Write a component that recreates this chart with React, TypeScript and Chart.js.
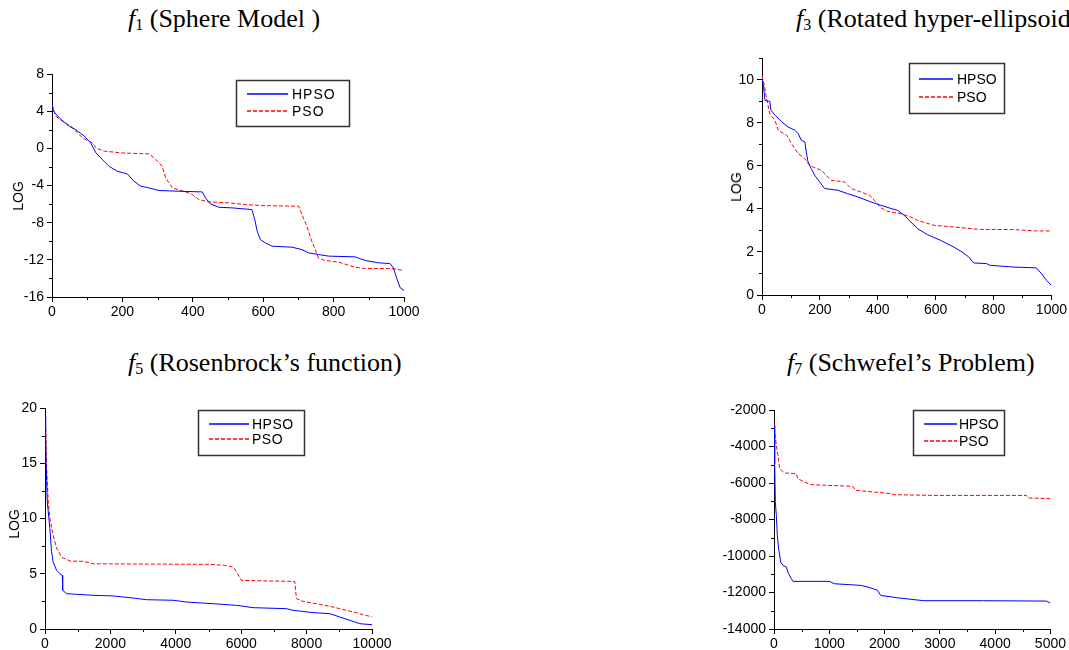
import React, { useEffect, useRef } from 'react';
import { Chart, registerables } from 'chart.js';

Chart.register(...registerables);

const SANS = '"Liberation Sans", Arial, sans-serif';
const SERIF = '"Liberation Serif", "Times New Roman", serif';

// ---------- f1 (Sphere Model) ----------
const f1HpsoX = [0, 4, 21, 49, 68, 92, 110, 125, 148, 162, 186, 214, 233, 252, 276, 304, 361, 427, 436, 450, 474, 512, 568, 576, 583, 592, 606, 625, 682, 710, 729, 757, 786, 861, 890, 927, 960, 970, 979, 989, 1000];
const f1HpsoY = [4.88, 4.0, 3.27, 2.37, 2.0, 1.3, 0.58, -0.5, -1.4, -1.93, -2.47, -2.75, -3.54, -4.08, -4.26, -4.54, -4.62, -4.69, -5.33, -5.98, -6.34, -6.41, -6.59, -7.66, -8.92, -9.81, -10.17, -10.53, -10.64, -10.9, -11.25, -11.43, -11.6, -11.68, -12.07, -12.32, -12.4, -12.86, -13.94, -15.0, -15.3];
const f1PsoX = [0, 11, 30, 54, 73, 87, 115, 125, 148, 200, 276, 295, 313, 323, 342, 380, 399, 417, 446, 502, 550, 597, 701, 710, 724, 738, 748, 757, 776, 814, 861, 890, 965, 1000];
const f1PsoY = [4.7, 3.45, 2.9, 2.37, 1.66, 1.1, 0.58, 0.04, -0.3, -0.5, -0.6, -1.2, -1.93, -3.18, -4.26, -4.69, -4.97, -5.51, -5.76, -5.87, -6.05, -6.16, -6.23, -7.13, -8.38, -9.99, -10.9, -11.8, -12.07, -12.25, -12.8, -12.93, -12.93, -13.15];

// ---------- f3 (Rotated hyper-ellipsoid) ----------
const f3HpsoX = [0, 5, 10, 27, 31, 45, 68, 90, 114, 125, 136, 148, 153, 159, 170, 182, 199, 216, 262, 296, 331, 376, 411, 446, 468, 491, 514, 537, 571, 617, 639, 663, 691, 714, 731, 776, 788, 868, 948, 966, 983, 1000];
const f3HpsoY = [10.06, 9.75, 9.05, 9.0, 8.59, 8.36, 8.05, 7.81, 7.66, 7.5, 7.19, 7.12, 6.65, 6.19, 5.88, 5.57, 5.26, 4.95, 4.87, 4.71, 4.56, 4.33, 4.17, 4.02, 3.94, 3.71, 3.4, 3.09, 2.81, 2.54, 2.39, 2.23, 2.0, 1.77, 1.49, 1.46, 1.38, 1.3, 1.26, 0.99, 0.68, 0.45];
const f3PsoX = [0, 8, 16, 27, 45, 56, 85, 102, 125, 148, 159, 176, 205, 239, 285, 308, 342, 371, 388, 411, 434, 479, 514, 537, 594, 663, 754, 868, 948, 1000];
const f3PsoY = [10.2, 9.75, 9.13, 8.43, 8.12, 7.66, 7.43, 7.04, 6.57, 6.34, 6.11, 5.95, 5.8, 5.33, 5.26, 4.95, 4.79, 4.64, 4.4, 4.05, 3.89, 3.78, 3.63, 3.47, 3.24, 3.16, 3.05, 3.04, 2.98, 2.98];

// ---------- f5 (Rosenbrock's function) ----------
const f5HpsoX = [0, 20, 35, 70, 150, 200, 250, 356, 458, 530, 540, 662, 967, 1477, 2088, 2700, 3106, 3920, 4328, 5143, 5855, 6365, 7383, 7587, 8198, 8707, 9012, 9419, 9623, 10000];
const f5HpsoY = [19.3, 17.8, 14.8, 11.5, 9.1, 7.0, 6.06, 5.3, 5.0, 4.86, 3.5, 3.2, 3.14, 3.05, 2.99, 2.8, 2.65, 2.6, 2.44, 2.29, 2.14, 1.93, 1.84, 1.69, 1.48, 1.39, 1.09, 0.69, 0.48, 0.39];
const f5PsoX = [0, 30, 50, 100, 150, 250, 356, 509, 764, 1171, 1477, 2902, 5041, 5499, 5754, 5855, 6008, 6976, 7637, 7688, 7892, 8300, 8809, 9420, 10000];
const f5PsoY = [19.3, 17.5, 14.5, 11.5, 10.0, 8.5, 7.3, 6.5, 6.15, 6.12, 5.9, 5.88, 5.85, 5.76, 5.6, 5.16, 4.4, 4.34, 4.31, 2.75, 2.5, 2.29, 1.99, 1.54, 1.09];

// ---------- f7 (Schwefel's Problem) ----------
const f7HpsoX = [0, 10, 15, 24, 42, 60, 84, 120, 162, 222, 252, 312, 342, 1001, 1091, 1571, 1751, 1871, 1931, 2260, 2710, 3789, 4928, 5000];
const f7HpsoY = [-2840, -3390, -4940, -7040, -7770, -8870, -9600, -10330, -10510, -10600, -10880, -11240, -11390, -11390, -11520, -11610, -11750, -11880, -12160, -12300, -12450, -12450, -12470, -12580];
const f7PsoX = [0, 12, 42, 72, 102, 192, 402, 432, 552, 671, 971, 1421, 1481, 1691, 2110, 2170, 2890, 4568, 4598, 5000];
const f7PsoY = [-2660, -3200, -3940, -4480, -5210, -5450, -5490, -5760, -5950, -6090, -6130, -6180, -6400, -6460, -6580, -6640, -6680, -6680, -6820, -6860];

const seriesLabels = ['HPSO', 'PSO'];
const seriesColors = ['#0000ff', '#ff0000'];
const psoDash = [4, 2];

type Panel = {
  plot: { l: number; t: number; r: number; b: number };
  yw: number; padTop: number; padRight: number; xh: number;
  x: [number, number, number, number];
  y: [number, number, number, number];
  hpso: [number[], number[]];
  pso: [number[], number[]];
  legend: { box: [number, number, number, number]; x1: number; x2: number; ys: [number, number]; textX: number; spacing: string };
};

const panels: Panel[] = [
  {
    plot: { l: 52, t: 74, r: 404, b: 297 }, yw: 50, padTop: 12, padRight: 22, xh: 28,
    x: [0, 1000, 100, 200], y: [-16, 8, 2, 4],
    hpso: [f1HpsoX, f1HpsoY], pso: [f1PsoX, f1PsoY],
    legend: { box: [236, 80, 113, 46], x1: 247, x2: 288, ys: [94, 111], textX: 292, spacing: '1px' },
  },
  {
    plot: { l: 762, t: 57, r: 1053, b: 295 }, yw: 40, padTop: 10, padRight: 16, xh: 28,
    x: [0, 1000, 100, 200], y: [0, 11, 1, 2],
    hpso: [f3HpsoX, f3HpsoY], pso: [f3PsoX, f3PsoY],
    legend: { box: [909, 63, 95, 50], x1: 919, x2: 953, ys: [79, 97], textX: 957, spacing: '0px' },
  },
  {
    plot: { l: 45, t: 408, r: 372, b: 629 }, yw: 42, padTop: 12, padRight: 24, xh: 28,
    x: [0, 10000, 1000, 2000], y: [0, 20, 2.5, 5],
    hpso: [f5HpsoX, f5HpsoY], pso: [f5PsoX, f5PsoY],
    legend: { box: [198, 410, 106, 45], x1: 209, x2: 249, ys: [424, 439], textX: 252, spacing: '0.5px' },
  },
  {
    plot: { l: 774, t: 410, r: 1052, b: 629 }, yw: 60, padTop: 12, padRight: 16, xh: 28,
    x: [0, 5000, 500, 1000], y: [-14000, -2000, 1000, 2000],
    hpso: [f7HpsoX, f7HpsoY], pso: [f7PsoX, f7PsoY],
    legend: { box: [913, 410, 91, 45], x1: 924, x2: 957, ys: [424, 441], textX: 959, spacing: '0px' },
  },
];

const boxLegend = {
  id: 'boxLegend',
  afterDraw(chart: any, _args: any, opts: any) {
    const ctx: CanvasRenderingContext2D = chart.ctx;
    const { box, x1, x2, ys, textX, ox, oy, spacing } = opts;
    ctx.save();
    ctx.strokeStyle = '#333333';
    ctx.lineWidth = 1.5;
    ctx.setLineDash([]);
    ctx.strokeRect(box[0] - ox + 0.5, box[1] - oy + 0.5, box[2], box[3]);
    for (let i = 0; i < seriesLabels.length; i++) {
      const y = ys[i] - oy;
      ctx.strokeStyle = seriesColors[i];
      ctx.lineWidth = 1.3;
      ctx.setLineDash(i === 1 ? psoDash : []);
      ctx.beginPath();
      ctx.moveTo(x1 - ox, y);
      ctx.lineTo(x2 - ox, y);
      ctx.stroke();
      ctx.setLineDash([]);
      ctx.fillStyle = '#000000';
      ctx.font = '14px ' + SANS;
      (ctx as any).letterSpacing = spacing;
      ctx.textBaseline = 'middle';
      ctx.textAlign = 'left';
      ctx.fillText(seriesLabels[i], textX - ox, y + 1.5);
      (ctx as any).letterSpacing = '0px';
    }
    ctx.restore();
  },
};

// short minor tick marks (major ones come from the grid)
const minorTicks = {
  id: 'minorTicks',
  afterDraw(chart: any) {
    const ctx: CanvasRenderingContext2D = chart.ctx;
    const xs = chart.scales.x;
    const ys = chart.scales.y;
    const { left, bottom } = chart.chartArea;
    ctx.save();
    ctx.strokeStyle = '#000';
    ctx.lineWidth = 1;
    ctx.beginPath();
    xs.ticks.forEach((t: any) => {
      if (t.label === '') {
        const px = Math.round(xs.getPixelForValue(t.value)) + 0.5;
        ctx.moveTo(px, Math.round(bottom));
        ctx.lineTo(px, Math.round(bottom) + 3);
      }
    });
    ys.ticks.forEach((t: any) => {
      if (t.label === '') {
        const py = Math.round(ys.getPixelForValue(t.value)) + 0.5;
        ctx.moveTo(Math.round(left) - 3, py);
        ctx.lineTo(Math.round(left), py);
      }
    });
    ctx.stroke();
    ctx.restore();
  },
};

function isMajor(v: number, step: number) {
  const q = v / step;
  return Math.abs(q - Math.round(q)) < 1e-6;
}

function PanelChart({ p }: { p: Panel }) {
  const ref = useRef<HTMLCanvasElement | null>(null);
  const left = p.plot.l - p.yw;
  const top = p.plot.t - p.padTop;
  const width = p.yw + (p.plot.r - p.plot.l) + p.padRight;
  const height = p.padTop + (p.plot.b - p.plot.t) + p.xh;

  useEffect(() => {
    if (!ref.current) return;
    const gridFor = (step: number) => ({
      drawOnChartArea: false,
      drawTicks: true,
      tickLength: 5,
      color: '#000',
      lineWidth: 1,
      tickColor: (c: any) => (c.tick && isMajor(Number(c.tick.value), step) ? '#000' : 'rgba(0,0,0,0)'),
    });
    const chart = new Chart(ref.current, {
      type: 'line',
      data: {
        datasets: [
          {
            label: seriesLabels[0],
            data: p.hpso[0].map((x, i) => ({ x, y: p.hpso[1][i] })),
            borderColor: seriesColors[0],
            borderWidth: 1,
            pointRadius: 0,
            tension: 0,
            fill: false,
          },
          {
            label: seriesLabels[1],
            data: p.pso[0].map((x, i) => ({ x, y: p.pso[1][i] })),
            borderColor: seriesColors[1],
            borderWidth: 1,
            borderDash: psoDash,
            pointRadius: 0,
            tension: 0,
            fill: false,
          },
        ],
      },
      options: {
        responsive: false,
        animation: false,
        devicePixelRatio: 1,
        layout: { padding: { top: p.padTop, right: p.padRight, left: 0, bottom: 0 } },
        scales: {
          x: {
            type: 'linear',
            position: 'bottom',
            min: p.x[0],
            max: p.x[1],
            grid: gridFor(p.x[3]),
            border: { display: true, color: '#000', width: 1 },
            ticks: {
              stepSize: p.x[2],
              autoSkip: false,
              maxRotation: 0,
              color: '#000',
              padding: 2,
              font: { size: 14, family: SANS },
              callback: (v: any) => (isMajor(Number(v), p.x[3]) ? String(v) : ''),
            },
            afterFit: (s: any) => { s.height = p.xh; },
          },
          y: {
            type: 'linear',
            position: 'left',
            min: p.y[0],
            max: p.y[1],
            grid: gridFor(p.y[3]),
            border: { display: true, color: '#000', width: 1 },
            ticks: {
              stepSize: p.y[2],
              autoSkip: false,
              color: '#000',
              padding: 3,
              font: { size: 14, family: SANS },
              callback: (v: any) => (isMajor(Number(v), p.y[3]) ? String(v) : ''),
            },
            afterFit: (s: any) => { s.width = p.yw; },
          },
        },
        plugins: {
          legend: { display: false },
          tooltip: { enabled: false },
          boxLegend: { ...p.legend, ox: left, oy: top },
        } as any,
      },
      plugins: [boxLegend, minorTicks],
    });
    return () => chart.destroy();
  }, []);

  return (
    <canvas
      ref={ref}
      width={width}
      height={height}
      style={{ position: 'absolute', left, top, width, height }}
    />
  );
}

const titles = [
  { left: 128, top: 6, sub: '1', text: '(Sphere Model )' },
  { left: 796, top: 6, sub: '3', text: '(Rotated hyper-ellipsoid' },
  { left: 128, top: 350, sub: '5', text: '(Rosenbrock\u2019s function)' },
  { left: 787, top: 350, sub: '7', text: '(Schwefel\u2019s Problem)' },
];

const yTitles = [
  { cx: 18, cy: 196 },
  { cx: 736, cy: 187 },
  { cx: 14, cy: 524 },
];

export default function App() {
  return (
    <div
      style={{
        position: 'fixed',
        left: 0,
        top: 0,
        width: 1069,
        height: 650,
        overflow: 'hidden',
        background: '#fff',
      }}
    >
      {panels.map((p, i) => (
        <PanelChart key={i} p={p} />
      ))}
      {titles.map((t, i) => (
        <div
          key={'t' + i}
          style={{
            position: 'absolute',
            left: t.left,
            top: t.top,
            fontFamily: SERIF,
            fontSize: 26,
            lineHeight: '26px',
            whiteSpace: 'nowrap',
            color: '#000',
          }}
        >
          <span style={{ fontStyle: 'italic' }}>f</span>
          <span style={{ fontSize: 16, verticalAlign: '-3px' }}>{t.sub}</span>
          {' ' + t.text}
        </div>
      ))}
      {yTitles.map((y, i) => (
        <div
          key={'y' + i}
          style={{
            position: 'absolute',
            left: y.cx,
            top: y.cy,
            transform: 'translate(-50%, -50%) rotate(-90deg)',
            fontFamily: SANS,
            fontSize: 14,
            lineHeight: '16px',
            whiteSpace: 'nowrap',
            color: '#000',
          }}
        >
          LOG
        </div>
      ))}
    </div>
  );
}
